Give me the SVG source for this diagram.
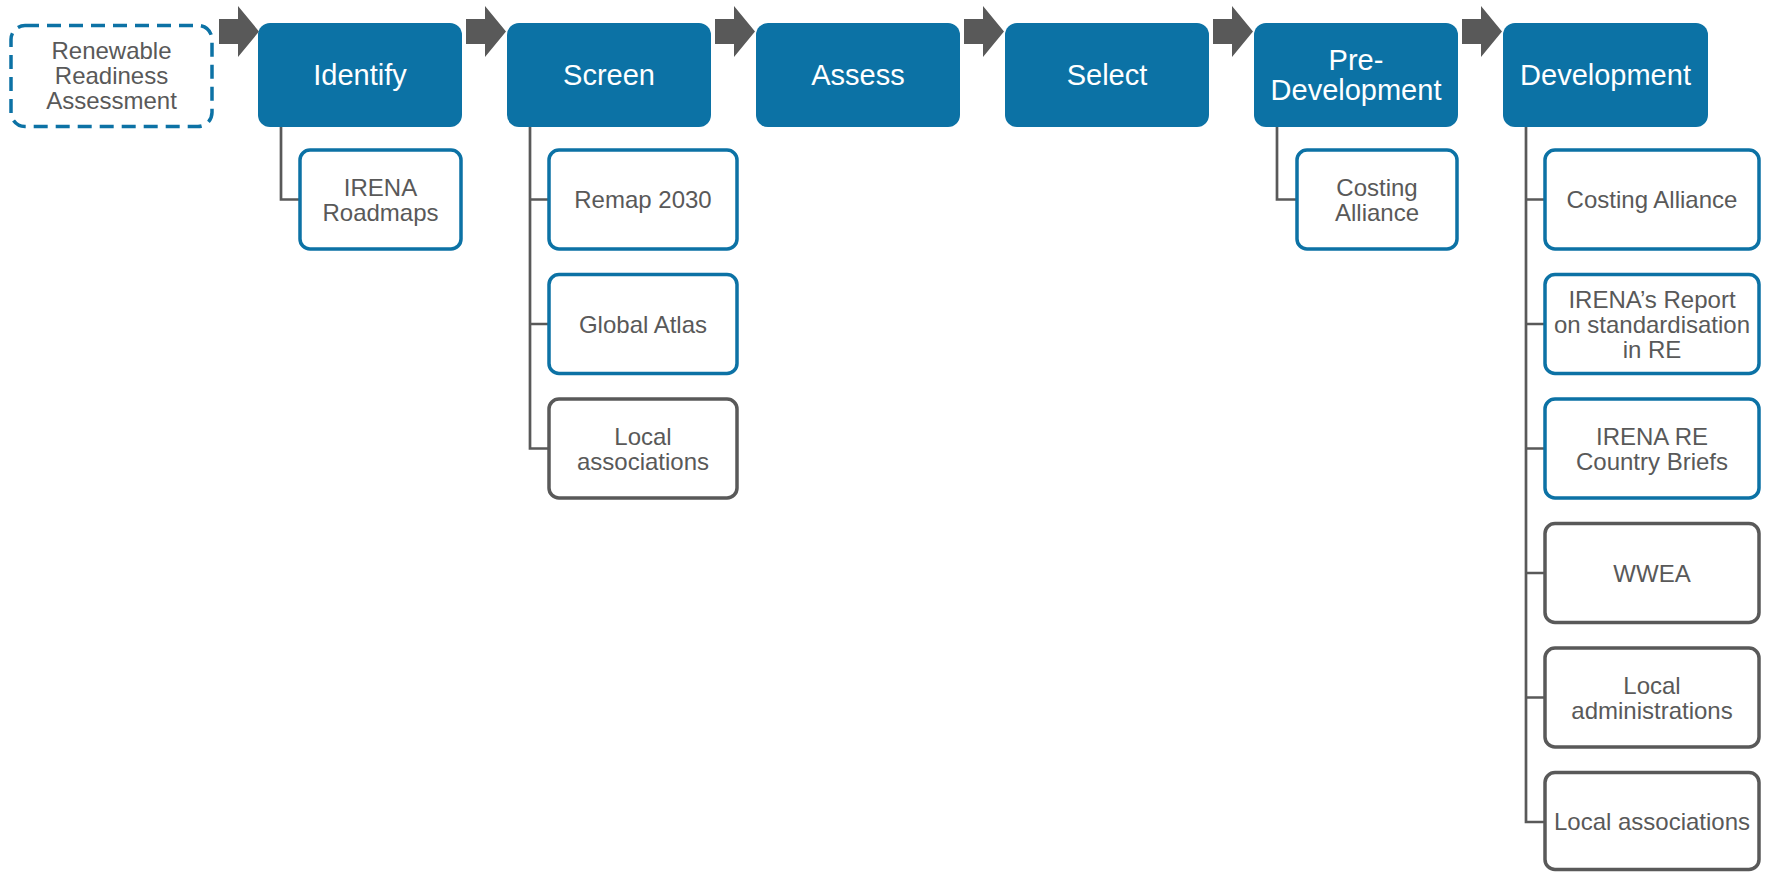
<svg xmlns="http://www.w3.org/2000/svg" width="1768" height="872" viewBox="0 0 1768 872">
<defs>
<style>
.main rect{fill:#0C72A5;}
.main text{fill:#FFFFFF;font-family:"Liberation Sans",Arial,sans-serif;font-size:29px;text-anchor:middle;}
.sub rect{fill:#FFFFFF;stroke-width:3.5;}
.sub.blue rect{stroke:#0C72A5;}
.sub.grey rect{stroke:#595959;}
.sub text,.start text{fill:#595959;font-family:"Liberation Sans",Arial,sans-serif;font-size:24px;text-anchor:middle;}
.start rect{fill:#FFFFFF;stroke:#0C72A5;stroke-width:3.5;stroke-dasharray:14 8;}
.arrow{fill:#595959;}
.conn path{fill:none;stroke:#595959;stroke-width:2.7;}
</style>
<polygon id="arr" points="0,19 19,19 19,6 40,31.5 19,57 19,44 0,44"/>
</defs>
<rect width="1768" height="872" fill="#FFFFFF"/>

<g id="arrows" class="arrow">
<use href="#arr" x="219"/>
<use href="#arr" x="466"/>
<use href="#arr" x="715"/>
<use href="#arr" x="964"/>
<use href="#arr" x="1213"/>
<use href="#arr" x="1462"/>
</g>

<g id="connectors" class="conn">
<path d="M281 127 V199.5 H300"/>
<path d="M530 127 V448.5 H549 M530 199.5 H549 M530 324 H549"/>
<path d="M1277 127 V199.5 H1297"/>
<path d="M1526 127 V822 H1545 M1526 199.5 H1545 M1526 324 H1545 M1526 448.5 H1545 M1526 573 H1545 M1526 697.5 H1545"/>
</g>

<g id="rra" class="start">
<rect x="11" y="25.5" width="201" height="101" rx="14"/>
<text x="111.5" y="58.5">Renewable</text>
<text x="111.5" y="83.5">Readiness</text>
<text x="111.5" y="108.5">Assessment</text>
</g>

<g id="identify" class="main"><rect x="258" y="23" width="204" height="104" rx="12"/><text x="360" y="85.4">Identify</text></g>
<g id="screen" class="main"><rect x="507" y="23" width="204" height="104" rx="12"/><text x="609" y="85.4">Screen</text></g>
<g id="assess" class="main"><rect x="756" y="23" width="204" height="104" rx="12"/><text x="858" y="85.4">Assess</text></g>
<g id="select" class="main"><rect x="1005" y="23" width="204" height="104" rx="12"/><text x="1107" y="85.4">Select</text></g>
<g id="predev" class="main"><rect x="1254" y="23" width="204" height="104" rx="12"/><text x="1356" y="70">Pre-</text><text x="1356" y="100">Development</text></g>
<g id="dev" class="main"><rect x="1503" y="23" width="205" height="104" rx="12"/><text x="1605.5" y="85.4">Development</text></g>

<g id="irena-roadmaps" class="sub blue"><rect x="300" y="150" width="161" height="99" rx="10"/><text x="380.5" y="195.5">IRENA</text><text x="380.5" y="220.5">Roadmaps</text></g>

<g id="remap" class="sub blue"><rect x="549" y="150" width="188" height="99" rx="10"/><text x="643" y="208">Remap 2030</text></g>
<g id="atlas" class="sub blue"><rect x="549" y="274.5" width="188" height="99" rx="10"/><text x="643" y="332.5">Global Atlas</text></g>
<g id="screen-local" class="sub grey"><rect x="549" y="399" width="188" height="99" rx="10"/><text x="643" y="444.5">Local</text><text x="643" y="469.5">associations</text></g>

<g id="predev-costing" class="sub blue"><rect x="1297" y="150" width="160" height="99" rx="10"/><text x="1377" y="195.5">Costing</text><text x="1377" y="220.5">Alliance</text></g>

<g id="dev-costing" class="sub blue"><rect x="1545" y="150" width="214" height="99" rx="10"/><text x="1652" y="208">Costing Alliance</text></g>
<g id="dev-report" class="sub blue"><rect x="1545" y="274.5" width="214" height="99" rx="10"/><text x="1652" y="307.5">IRENA’s Report</text><text x="1652" y="332.5">on standardisation</text><text x="1652" y="357.5">in RE</text></g>
<g id="dev-briefs" class="sub blue"><rect x="1545" y="399" width="214" height="99" rx="10"/><text x="1652" y="444.5">IRENA RE</text><text x="1652" y="469.5">Country Briefs</text></g>
<g id="dev-wwea" class="sub grey"><rect x="1545" y="523.5" width="214" height="99" rx="10"/><text x="1652" y="581.5">WWEA</text></g>
<g id="dev-admin" class="sub grey"><rect x="1545" y="648" width="214" height="99" rx="10"/><text x="1652" y="693.5">Local</text><text x="1652" y="718.5">administrations</text></g>
<g id="dev-local" class="sub grey"><rect x="1545" y="772.5" width="214" height="97" rx="10"/><text x="1652" y="830">Local associations</text></g>
</svg>
